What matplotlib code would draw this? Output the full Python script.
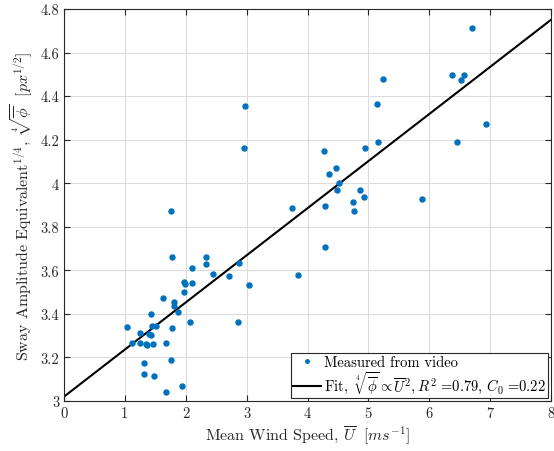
import matplotlib
matplotlib.use("Agg")
import matplotlib.pyplot as plt
import numpy as np

plt.rcParams['font.family'] = 'serif'
plt.rcParams['font.serif'] = ['cmr10', 'DejaVu Serif']
plt.rcParams['mathtext.fontset'] = 'cm'
plt.rcParams['axes.formatter.use_mathtext'] = True

# Measured data (mean wind speed, sway amplitude^(1/4))
wind_speed = [1.757, 3.750, 1.773, 2.337, 2.326, 2.874, 2.097, 2.441, 2.709, 3.842,
              1.970, 1.992, 2.097, 3.032, 1.965, 1.631, 1.806, 1.811, 1.877, 1.434,
              2.074, 2.862, 1.029, 1.450, 1.505, 1.773, 1.248, 1.396, 1.434, 1.117,
              1.253, 1.352, 1.363, 1.461, 1.669, 1.314, 1.762, 1.319, 1.473, 1.932,
              1.675,
              6.706, 5.243, 6.376, 6.568, 6.524, 5.145, 6.925, 5.151, 6.448, 4.943,
              4.855, 4.745, 4.931, 4.762, 5.883,
              2.977, 2.956, 4.269, 4.461, 4.351, 4.521, 4.483, 4.286, 4.286]
sway_amp = [3.871, 3.885, 3.663, 3.663, 3.628, 3.634, 3.611, 3.582, 3.575, 3.578,
            3.548, 3.539, 3.543, 3.531, 3.502, 3.474, 3.456, 3.438, 3.410, 3.401,
            3.361, 3.363, 3.338, 3.346, 3.344, 3.337, 3.312, 3.306, 3.303, 3.265,
            3.265, 3.263, 3.256, 3.263, 3.265, 3.173, 3.187, 3.123, 3.116, 3.067,
            3.043,
            4.714, 4.480, 4.495, 4.497, 4.475, 4.364, 4.272, 4.191, 4.189, 4.160,
            3.970, 3.915, 3.937, 3.871, 3.926,
            4.353, 4.162, 4.148, 4.068, 4.042, 4.000, 3.970, 3.897, 3.706]

# Fit line parameters
fit_intercept = 3.02
fit_slope = 0.2163

x_ticks = [0, 1, 2, 3, 4, 5, 6, 7, 8]
x_tick_labels = ['0', '1', '2', '3', '4', '5', '6', '7', '8']
y_ticks = [3.0, 3.2, 3.4, 3.6, 3.8, 4.0, 4.2, 4.4, 4.6, 4.8]
y_tick_labels = ['3', '3.2', '3.4', '3.6', '3.8', '4', '4.2', '4.4', '4.6', '4.8']

fig = plt.figure(figsize=(5.54, 4.52), dpi=100)
ax = fig.add_axes([64/554, 50/452, 487/554, 392/452])

blue = '#0072BD'
ax.plot(wind_speed, sway_amp, linestyle='none', marker='o', ms=3.6,
        mfc=blue, mec=blue, label='Measured from video', zorder=3)
xf = np.array([0, 8])
ax.plot(xf, fit_intercept + fit_slope * xf, color='black', lw=1.5,
        label=r'Fit, $\;\sqrt[4]{\overline{\phi}}\propto\overline{U}^2,R^2\ $=0.79, $C_0\ $=0.22',
        zorder=2)

ax.set_xlim(0, 8)
ax.set_ylim(3, 4.8)
ax.set_xticks(x_ticks)
ax.set_xticklabels(x_tick_labels)
ax.set_yticks(y_ticks)
ax.set_yticklabels(y_tick_labels)

ax.grid(True, color='#dcdcdc', lw=0.8)
ax.set_axisbelow(True)
for s in ax.spines.values():
    s.set_color('#262626')
    s.set_linewidth(0.8)
ax.tick_params(direction='in', top=True, right=True, length=4, width=0.8,
               colors='#262626', labelsize=10.5, labelcolor='#262626')

ax.set_xlabel(r'Mean Wind Speed, $\overline{U}\ \ [ms^{-1}]$', fontsize=11.5,
              color='#262626', labelpad=3)
ax.set_ylabel(r'Sway Amplitude Equivalent$^{1/4}$, $\;\sqrt[4]{\overline{\phi}}\ \ [px^{1/2}]$',
              fontsize=11.5, color='#262626', labelpad=4)

leg = ax.legend(loc='lower right', fontsize=10.5, fancybox=False, edgecolor='#262626',
                framealpha=1, borderaxespad=0.2, handlelength=1.9, handletextpad=0.2,
                borderpad=0.15, labelspacing=0.05, markerscale=0.7)
leg.get_frame().set_linewidth(0.8)

fig.savefig('out.png', dpi=100)
